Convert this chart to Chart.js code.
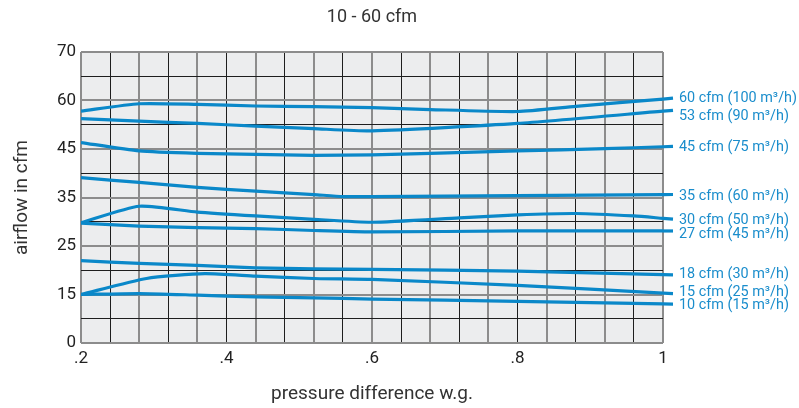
<!DOCTYPE html>
<html><head><meta charset="utf-8">
<script src="https://cdn.jsdelivr.net/npm/chart.js@4"></script>
<style>html,body{margin:0;padding:0;background:#fff}</style>
</head><body>
<canvas id="c" width="799" height="408"></canvas>
<script>
// ---- text ----
const chartTitle = '10 - 60 cfm';
const xTitle = 'pressure difference w.g.';
const yTitle = 'airflow in cfm';
// x tick labels: one every 5th grid line (grid step .04)
const xTickLabels = ['.2', '.4', '.6', '.8', '1'];
// y axis is non-linear: labelled grid lines (every 2nd line) carry these values
const yTickValues = [0, 15, 25, 35, 45, 60, 70];

const seriesNames = ['60 cfm (100 m³/h)', '53 cfm (90 m³/h)', '45 cfm (75 m³/h)', '35 cfm (60 m³/h)',
  '30 cfm (50 m³/h)', '27 cfm (45 m³/h)', '18 cfm (30 m³/h)', '15 cfm (25 m³/h)', '10 cfm (15 m³/h)'];

const p60 = [0.20, 0.28, 0.36, 0.44, 0.52, 0.60, 0.68, 0.80, 0.88, 1.00];
const q60 = [56.7, 59.0, 58.8, 58.3, 58.1, 57.8, 57.2, 56.6, 58.2, 60.3];

const p53 = [0.20, 0.28, 0.36, 0.44, 0.52, 0.60, 0.80, 1.00];
const q53 = [54.4, 53.6, 52.9, 52.1, 51.3, 50.6, 52.9, 56.7];

const p45 = [0.20, 0.28, 0.36, 0.44, 0.52, 0.60, 0.68, 0.80, 0.92, 1.00];
const q45 = [47.0, 44.6, 44.1, 43.9, 43.7, 43.8, 44.1, 44.6, 45.1, 45.7];

const p35 = [0.20, 0.28, 0.36, 0.44, 0.52, 0.56, 0.60, 0.80, 1.00];
const q35 = [39.1, 38.1, 37.1, 36.3, 35.6, 35.2, 35.2, 35.4, 35.6];

const p30 = [0.20, 0.28, 0.36, 0.44, 0.52, 0.60, 0.72, 0.80, 0.88, 0.96, 1.00];
const q30 = [29.8, 33.2, 32.0, 31.2, 30.5, 29.9, 30.8, 31.4, 31.7, 31.2, 30.7];

const p27 = [0.20, 0.28, 0.36, 0.44, 0.52, 0.60, 0.80, 1.00];
const q27 = [29.7, 29.1, 28.8, 28.6, 28.2, 27.9, 28.1, 28.1];

const p18 = [0.20, 0.28, 0.36, 0.44, 0.52, 0.60, 0.80, 1.00];
const q18 = [22.0, 21.4, 21.0, 20.5, 20.3, 20.2, 19.8, 19.1];

const p15 = [0.20, 0.29, 0.37, 0.44, 0.52, 0.60, 0.80, 1.00];
const q15 = [15.0, 18.3, 19.3, 18.8, 18.3, 18.1, 16.9, 15.3];

const p10 = [0.20, 0.28, 0.36, 0.44, 0.52, 0.60, 0.80, 1.00];
const q10 = [15.0, 15.2, 14.8, 14.25, 13.95, 13.6, 12.9, 12.1];

const pressures = [p60, p53, p45, p35, p30, p27, p18, p15, p10];
const airflows  = [q60, q53, q45, q35, q30, q27, q18, q15, q10];

// map an airflow value onto the non-linear axis (grid-line position, 2 lines per labelled interval)
function toAxis(v) {
  for (let i = 0; i < yTickValues.length - 1; i++) {
    const a = yTickValues[i], b = yTickValues[i + 1];
    if (v <= b || i === yTickValues.length - 2) return 2 * i + 2 * (v - a) / (b - a);
  }
}

const BLUE = '#0a88c9';
const FONT = 'Roboto, "Liberation Sans", sans-serif';

const datasets = seriesNames.map((name, i) => ({
  label: name,
  data: pressures[i].map((x, j) => ({ x: x, y: toAxis(airflows[i][j]) })),
  borderColor: BLUE,
  backgroundColor: BLUE,
  borderWidth: 3.2,
  pointRadius: 0,
  tension: 0.2,
  fill: false
}));

const labelNudge = [-1, 5, 1, 2, 2, 3, 0, -1, 2];

const plotBg = {
  id: 'plotBg',
  beforeDraw(chart) {
    const { ctx, chartArea: a } = chart;
    ctx.save();
    ctx.fillStyle = '#ecedee';
    ctx.fillRect(a.left, a.top, a.right - a.left, a.bottom - a.top);
    ctx.restore();
  }
};

const endLabels = {
  id: 'endLabels',
  afterDatasetsDraw(chart) {
    const { ctx, chartArea: a } = chart;
    ctx.save();
    chart.data.datasets.forEach((ds, i) => {
      const pts = chart.getDatasetMeta(i).data;
      const p = pts[pts.length - 1], q = pts[pts.length - 2];
      const slope = (p.y - q.y) / (p.x - q.x);
      ctx.strokeStyle = BLUE;
      ctx.lineWidth = 3.2;
      ctx.beginPath();
      ctx.moveTo(p.x, p.y);
      ctx.lineTo(p.x + 10, p.y + slope * 10);
      ctx.stroke();
      ctx.fillStyle = '#1a8dcc';
      ctx.font = '14.4px ' + FONT;
      ctx.textAlign = 'left';
      ctx.textBaseline = 'middle';
      ctx.fillText(ds.label, 679, p.y + labelNudge[i]);
    });
    // chart title centred over the plot
    ctx.fillStyle = '#333';
    ctx.font = '18px ' + FONT;
    ctx.textAlign = 'center';
    ctx.textBaseline = 'middle';
    ctx.fillText(chartTitle, (a.left + a.right) / 2, 17.5);
    ctx.restore();
  }
};

const gridColor = c => (c.index % 2 ? '#1e1e1e' : '#8c8c8c');
const gridWidth = c => (c.index % 2 ? 1 : 2);

new Chart(document.getElementById('c'), {
  type: 'line',
  data: { datasets },
  plugins: [plotBg, endLabels],
  options: {
    responsive: false,
    animation: false,
    devicePixelRatio: 1,
    layout: { padding: { top: 52, right: 136, left: 0, bottom: 0 } },
    plugins: { legend: { display: false }, tooltip: { enabled: false }, title: { display: false } },
    scales: {
      x: {
        type: 'linear', min: 0.2, max: 1,
        ticks: {
          stepSize: 0.04, autoSkip: false, maxRotation: 0, padding: 6,
          color: '#222', font: { family: FONT, size: 17 },
          callback: (v, i) => (i % 5 === 0 ? xTickLabels[i / 5] : '')
        },
        grid: { color: gridColor, lineWidth: gridWidth, drawTicks: false },
        border: { display: false },
        title: { display: true, text: xTitle, color: '#333', font: { family: FONT, size: 19 }, padding: { top: 0, bottom: 2 } },
        afterFit: s => { s.height = 65; }
      },
      y: {
        type: 'linear', min: 0, max: 12,
        ticks: {
          stepSize: 1, autoSkip: false, padding: 5,
          color: '#222', font: { family: FONT, size: 17 },
          callback: v => (v % 2 === 0 ? String(yTickValues[v / 2]) : '')
        },
        grid: { color: gridColor, lineWidth: gridWidth, drawTicks: false },
        border: { display: false },
        title: { display: true, text: yTitle, color: '#333', font: { family: FONT, size: 19 }, padding: { top: 11, bottom: 0 } },
        afterFit: s => { s.width = 81; }
      }
    }
  }
});
</script>
</body></html>
